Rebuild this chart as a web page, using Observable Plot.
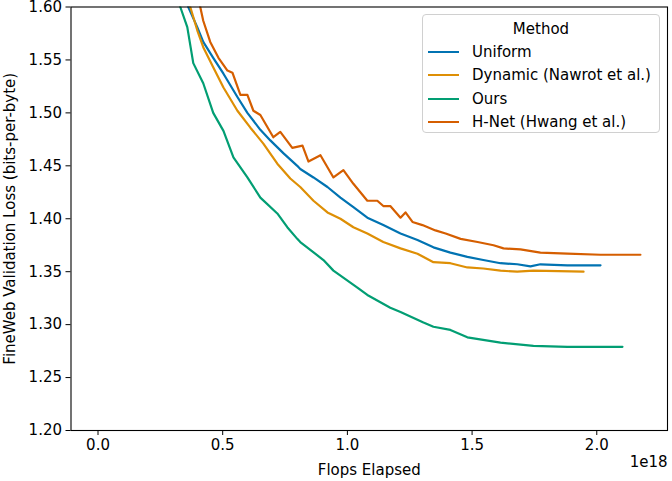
<!DOCTYPE html>
<html>
<head>
<meta charset="utf-8">
<script src="https://cdn.jsdelivr.net/npm/d3@7"></script>
<script src="https://cdn.jsdelivr.net/npm/@observablehq/plot@0.6"></script>
<style>
  html, body { margin: 0; padding: 0; background: #fff; overflow: hidden; }
  #wrap { position: relative; width: 672px; height: 481px; font-family: "DejaVu Sans", sans-serif; }
  #wrap svg { overflow: visible; }
  #legend { position: absolute; left: 422px; top: 14px; width: 238px; height: 119px;
    border: 1px solid #d0d0d0; border-radius: 4px; background: rgba(255,255,255,0.85);
    font-size: 15px; color: #000; box-sizing: border-box; }
  #legend .title { text-align: center; margin-top: 3px; height: 22px; line-height: 22px; }
  #legend .row { display: flex; align-items: center; height: 23.5px; white-space: nowrap; }
  #legend .sw { width: 31px; height: 2.2px; margin-left: 5px; margin-right: 13px; }
</style>
</head>
<body>
<div id="wrap"></div>
<script>
// Flops in units of 1e18, loss in bits-per-byte
const methods = ["Uniform", "Dynamic (Nawrot et al.)", "Ours", "H-Net (Hwang et al.)"];
const colors = ["#0173b2", "#de8f05", "#029e73", "#d55e00"];

const uniformFlops = [0.354,0.362,0.398,0.422,0.462,0.503,0.559,0.599,0.651,0.691,0.743,0.799,0.811,0.864,0.920,0.972,1.024,1.080,1.144,1.213,1.281,1.345,1.413,1.481,1.545,1.614,1.681,1.734,1.774,1.882,2.015];
const uniformLoss  = [1.611,1.600,1.581,1.567,1.552,1.537,1.515,1.500,1.484,1.474,1.462,1.450,1.447,1.439,1.430,1.420,1.411,1.401,1.394,1.386,1.380,1.373,1.368,1.364,1.361,1.358,1.357,1.355,1.357,1.356,1.356];

const dynamicFlops = [0.362,0.370,0.398,0.422,0.462,0.503,0.559,0.611,0.663,0.719,0.771,0.811,0.864,0.920,0.972,1.024,1.080,1.144,1.213,1.281,1.345,1.413,1.481,1.545,1.614,1.681,1.746,1.947];
const dynamicLoss  = [1.611,1.600,1.578,1.562,1.543,1.524,1.502,1.486,1.471,1.452,1.438,1.430,1.417,1.406,1.400,1.392,1.386,1.378,1.372,1.367,1.359,1.358,1.354,1.353,1.351,1.350,1.351,1.350];

const oursFlops = [0.318,0.330,0.358,0.382,0.422,0.462,0.503,0.543,0.599,0.651,0.719,0.759,0.799,0.811,0.904,0.944,1.040,1.080,1.172,1.213,1.305,1.345,1.413,1.481,1.614,1.746,1.882,2.103];
const oursLoss  = [1.611,1.600,1.581,1.547,1.528,1.500,1.483,1.458,1.439,1.420,1.405,1.392,1.381,1.378,1.361,1.351,1.335,1.328,1.316,1.312,1.302,1.298,1.295,1.288,1.283,1.280,1.279,1.279];

const hnetFlops = [0.402,0.410,0.422,0.450,0.483,0.519,0.539,0.571,0.599,0.623,0.651,0.703,0.731,0.779,0.820,0.844,0.892,0.944,0.984,1.024,1.080,1.120,1.144,1.172,1.213,1.233,1.261,1.301,1.353,1.394,1.454,1.522,1.586,1.626,1.694,1.774,1.882,2.015,2.175];
const hnetLoss  = [1.611,1.600,1.587,1.567,1.552,1.540,1.538,1.517,1.517,1.502,1.498,1.477,1.482,1.467,1.469,1.454,1.460,1.439,1.446,1.433,1.417,1.417,1.412,1.412,1.401,1.406,1.397,1.394,1.389,1.386,1.381,1.378,1.375,1.372,1.371,1.368,1.367,1.366,1.366];

const xTicks = [0, 0.5, 1.0, 1.5, 2.0];
const yTicks = [1.20, 1.25, 1.30, 1.35, 1.40, 1.45, 1.50, 1.55, 1.60];

const seriesFlops = [uniformFlops, dynamicFlops, oursFlops, hnetFlops];
const seriesLoss = [uniformLoss, dynamicLoss, oursLoss, hnetLoss];
const rows = [];
methods.forEach((m, i) => seriesFlops[i].forEach((f, j) => rows.push({method: m, flops: f, loss: seriesLoss[i][j]})));

const plot = Plot.plot({
  width: 672,
  height: 481,
  marginLeft: 70.5,
  marginRight: 5,
  marginTop: 6.5,
  marginBottom: 51,
  style: {fontFamily: "DejaVu Sans, sans-serif", fontSize: "15px", color: "#000", background: "#fff", overflow: "visible"},
  x: {domain: [-0.1083, 2.2836]},
  y: {domain: [1.2, 1.6]},
  color: {domain: methods, range: colors},
  marks: [
    Plot.line(rows, {x: "flops", y: "loss", z: "method", stroke: "method", strokeWidth: 2.2, clip: true}),
    Plot.frame({stroke: "#000", strokeWidth: 1.1}),
    Plot.axisX({ticks: xTicks, tickFormat: d3.format(".1f"), tickSize: 5, tickPadding: 4, fontSize: 15,
      label: "Flops Elapsed", labelAnchor: "center", labelArrow: "none", labelOffset: 44}),
    Plot.axisY({ticks: yTicks, tickFormat: d3.format(".2f"), tickSize: 5, tickPadding: 4, fontSize: 15,
      label: "FineWeb Validation Loss (bits-per-byte)", labelAnchor: "center", labelArrow: "none", labelOffset: 67}),
    Plot.text(["1e18"], {frameAnchor: "bottom-right", dy: 36, textAnchor: "end", fontSize: 15})
  ]
});

const wrap = document.getElementById("wrap");
wrap.appendChild(plot);

const legend = document.createElement("div");
legend.id = "legend";
const t = document.createElement("div");
t.className = "title";
t.textContent = "Method";
legend.appendChild(t);
methods.forEach((m, i) => {
  const r = document.createElement("div");
  r.className = "row";
  const sw = document.createElement("div");
  sw.className = "sw";
  sw.style.background = colors[i];
  const lb = document.createElement("span");
  lb.textContent = m;
  r.appendChild(sw);
  r.appendChild(lb);
  legend.appendChild(r);
});
wrap.appendChild(legend);
</script>
</body>
</html>
